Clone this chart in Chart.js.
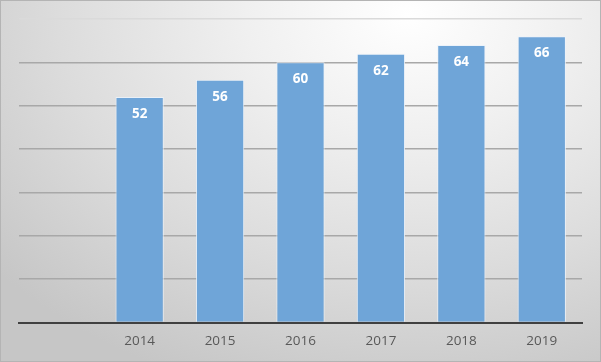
<!DOCTYPE html>
<html>
<head>
<meta charset="utf-8">
<script src="https://cdn.jsdelivr.net/npm/chart.js@4"></script>
<style>
    html, body { margin: 0; padding: 0; }
    .wrap {
        position: relative;
        width: 601px;
        height: 362px;
        box-sizing: border-box;
        border: 1px solid #b4b4b4;
        background: radial-gradient(ellipse 90% 110% at 68% 4%, #ffffff 0%, #f0f0f0 30%, #dcdcdc 65%, #c6c6c6 100%);
    }
    canvas { position: absolute; left: 0; top: 0; }
</style>
</head>
<body>
<div class="wrap"><canvas id="chart" width="599" height="360"></canvas></div>
<script>
// ========== DATA ==========
const years = ['', '2014', '2015', '2016', '2017', '2018', '2019'];
const values = [null, 52, 56, 60, 62, 64, 66];
const yMin = 0, yMax = 70, yStep = 10;

// ========== LABEL PLUGIN ==========
const barLabels = {
    id: 'barLabels',
    afterDatasetsDraw(chart) {
        const ctx = chart.ctx;
        const meta = chart.getDatasetMeta(0);
        ctx.save();
        ctx.fillStyle = '#ffffff';
        ctx.font = 'bold 13.5px "Open Sans", sans-serif';
        ctx.textAlign = 'center';
        ctx.textBaseline = 'middle';
        meta.data.forEach((bar, i) => {
            if (values[i] == null) return;
            ctx.fillText(values[i], bar.x, bar.y + 17);
        });
        ctx.restore();
    }
};

// ========== CHART ==========
new Chart(document.getElementById('chart'), {
    type: 'bar',
    data: {
        labels: years,
        datasets: [{
            data: values,
            backgroundColor: '#6fa5d8',
            borderColor: 'rgba(235,242,250,0.9)',
            borderWidth: 1,
            barPercentage: 0.6,
            categoryPercentage: 1.0
        }]
    },
    options: {
        responsive: false,
        animation: false,
        layout: { padding: { left: 18, right: 18, top: 18, bottom: 1 } },
        plugins: { legend: { display: false }, tooltip: { enabled: false } },
        scales: {
            x: {
                grid: { display: false, drawTicks: false },
                border: { color: '#404040', width: 2 },
                ticks: { color: '#595959', font: { family: '"Open Sans", sans-serif', size: 13.5, lineHeight: 1 }, padding: 12 }
            },
            y: {
                min: yMin,
                max: yMax,
                ticks: { display: false, stepSize: yStep },
                border: { display: false },
                grid: {
                    drawTicks: false,
                    lineWidth: 1.5,
                    color: c => c.tick.value === yMax ? '#dadada' : '#a8a8a8'
                }
            }
        }
    },
    plugins: [barLabels]
});
</script>
</body>
</html>
